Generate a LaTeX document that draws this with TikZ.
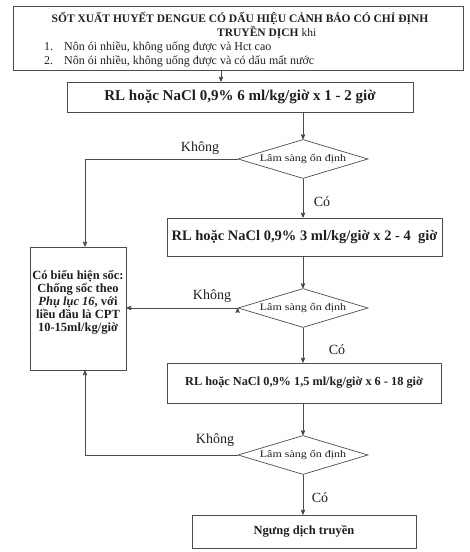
\documentclass[tikz,border=0pt]{standalone}
\usepackage{fontspec}
\setmainfont{Liberation Serif}
\newfontfamily\widefont[FakeStretch=1.2]{Liberation Serif}
\usetikzlibrary{arrows, shapes.geometric, positioning}

\definecolor{linegray}{gray}{0.3}
\definecolor{inkgray}{gray}{0.12}

\begin{document}
\begin{tikzpicture}[x=1pt, y=-1pt, >=stealth', text=inkgray,
  box/.style={draw=linegray, rectangle, line width=0.8pt, inner sep=0pt},
  choice/.style={draw=linegray, diamond, aspect=3.33, line width=0.7pt, inner sep=0pt,
    minimum width=130pt, minimum height=39pt, font=\widefont\fontsize{10}{11}\selectfont},
  answer/.style={inner sep=0pt, font=\fontsize{14}{16}\selectfont},
  dose/.style={inner sep=0pt, font=\bfseries\fontsize{#1}{#1}\selectfont},
  link/.style={->, draw=linegray, line width=0.8pt}]

\useasboundingbox (0,0) rectangle (470,552);

% define the boxes
  \node[box, minimum width=450pt, minimum height=64pt] (start) at (238,38) {};
  \node[dose=11.5, anchor=base] (title) at (240,22)
{SỐT XUẤT HUYẾT DENGUE CÓ DẤU HIỆU CẢNH BÁO CÓ CHỈ ĐỊNH};
  \node[inner sep=0pt, anchor=base west, font=\fontsize{11.5}{13}\selectfont] (title2) at (217,36)
{\textbf{TRUYỀN DỊCH} khi};
  \node[inner sep=0pt, anchor=base west, font=\fontsize{12}{13}\selectfont] (item1) at (44,50)
{1.\hspace{11pt}Nôn ói nhiều, không uống được và Hct cao};
  \node[inner sep=0pt, anchor=base west, font=\fontsize{12}{13}\selectfont] (item2) at (44,64)
{2.\hspace{11pt}Nôn ói nhiều, không uống được và có dấu mất nước};

  \node[box, dose=15, minimum width=346pt, minimum height=30pt] (fast) at (240,97)
{RL hoặc NaCl 0,9\% 6 ml/kg/giờ x 1 - 2 giờ};
  \node[box, dose=14.5, minimum width=275pt, minimum height=38pt] (mid) at (304.5,237)
{RL hoặc NaCl 0,9\% 3 ml/kg/giờ x 2 - 4 \ giờ};
  \node[box, dose=12.3, minimum width=274pt, minimum height=40pt] (slow) at (304,383)
{RL hoặc NaCl 0,9\% 1,5 ml/kg/giờ x 6 - 18 giờ};
  \node[box, dose=12.5, minimum width=224pt, minimum height=33pt] (stop) at (304,531.5)
{Ngưng dịch truyền};

  \node[box, minimum width=96pt, minimum height=123pt] (shock) at (78,308.5) {};
  \node[dose=12.5, align=center, font=\bfseries\fontsize{12.5}{13}\selectfont] (shocktext) at (78,302)
{Có biểu hiện sốc:\\ Chống sốc theo\\ \textit{Phụ lục 16}, với\\ liều đầu là CPT\\ 10-15ml/kg/giờ};

% define the checks
  \node[choice] (check1) at (303,159) {Lâm sàng ổn định};
  \node[choice] (check2) at (303,308) {Lâm sàng ổn định};
  \node[choice] (check3) at (303,455) {Lâm sàng ổn định};

  \coordinate (feed) at (221,0);
  \coordinate (bend) at (85,0);

% define the links
  \path[link] (start.south -| feed) edge (fast.north -| feed)
            (fast.south -| check1) edge (check1.north)
            (check1.south) edge (mid.north -| check1)
            (mid.south -| check2) edge (check2.north)
            (check2.south) edge (slow.north -| check2)
            (slow.south -| check3) edge (check3.north)
            (check3.south) edge (stop.north -| check3)
            (check2.west) edge (check2.west -| shock.east);
  \draw[link] (check1.west) -| (bend |- shock.north);
  \draw[link] (check3.west) -| (bend |- shock.south);

% define the answers
  \node[answer] (no1) at (200,148) {Không};
  \node[answer] (no2) at (212,296) {Không};
  \node[answer] (no3) at (215,440) {Không};
  \node[answer] (yes1) at (322,202) {Có};
  \node[answer] (yes2) at (337,350) {Có};
  \node[answer] (yes3) at (320,498) {Có};

\end{tikzpicture}
\end{document}
